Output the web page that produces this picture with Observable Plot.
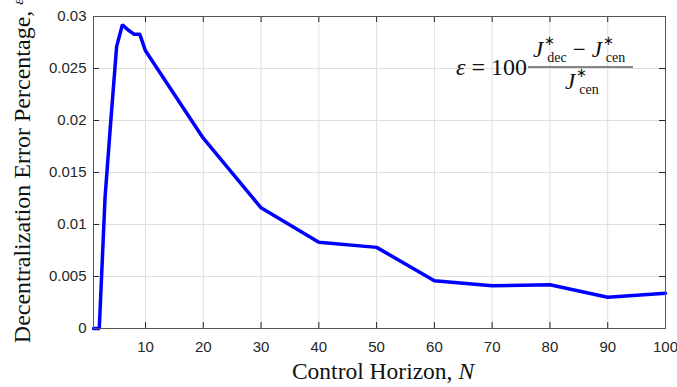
<!DOCTYPE html>
<html><head><meta charset="utf-8">
<script src="https://cdn.jsdelivr.net/npm/d3@7"></script>
<script src="https://cdn.jsdelivr.net/npm/@observablehq/plot@0.6"></script>
<style>
body{margin:0;background:#fff;}
#wrap{position:relative;width:677px;height:387px;overflow:hidden;}
#wrap > svg{position:absolute;left:0;top:0;}
#over{pointer-events:none;font-family:"Liberation Serif","Times New Roman",serif;fill:#111;}
</style></head><body><div id="wrap"></div>
<script>
const horizon = [1, 2, 3, 4, 5, 6, 7, 8, 9, 10, 20, 30, 40, 50, 60, 70, 80, 90, 100];
const errorPct = [0, 0, 0.0126, 0.0200, 0.0271, 0.0292, 0.0287, 0.0283, 0.0283, 0.0267, 0.0183, 0.0116, 0.0083, 0.0078, 0.0046, 0.0041, 0.0042, 0.0030, 0.0034];
const xTicks = [10, 20, 30, 40, 50, 60, 70, 80, 90, 100];
const yTicks = [0, 0.005, 0.01, 0.015, 0.02, 0.025, 0.03];
const yTickLabels = ["0", "0.005", "0.01", "0.015", "0.02", "0.025", "0.03"];
const xLabel = "Control Horizon, ";
const xLabelVar = "N";
const yLabel = "Decentralization Error Percentage, ";
const yLabelVar = "ε";

const W = 677, H = 387, mL = 93, mR = 12, mT = 16, mB = 59;
const pw = W - mL - mR, ph = H - mT - mB, tk = 6;
const data = horizon.map((n, i) => ({n, e: errorPct[i]}));

const chart = Plot.plot({
  width: W, height: H, marginLeft: mL, marginRight: mR, marginTop: mT, marginBottom: mB,
  style: {fontFamily: "'Liberation Sans', Arial, sans-serif", fontSize: "15px", color: "#262626", background: "#fff"},
  x: {domain: [1, 100]},
  y: {domain: [0, 0.03]},
  marks: [
    Plot.gridX(xTicks, {stroke: "#dedede", strokeOpacity: 1}),
    Plot.gridY(yTicks, {stroke: "#dedede", strokeOpacity: 1}),
    Plot.tickX(xTicks, {x: d => d, insetTop: ph - tk, stroke: "#262626"}),
    Plot.tickX(xTicks, {x: d => d, insetBottom: ph - tk, stroke: "#262626"}),
    Plot.tickY(yTicks, {y: d => d, insetRight: pw - tk, stroke: "#262626"}),
    Plot.tickY(yTicks, {y: d => d, insetLeft: pw - tk, stroke: "#262626"}),
    Plot.axisX(xTicks, {tickSize: 0, tickPadding: 13, label: null, fontSize: 15, fill: "#262626"}),
    Plot.axisY(yTicks, {tickSize: 0, tickPadding: 7, label: null, fontSize: 15, fill: "#262626",
      tickFormat: d => yTickLabels[yTicks.indexOf(d)]}),
    Plot.line(data, {x: "n", y: "e", stroke: "#0000ff", strokeWidth: 3.5, strokeLinejoin: "miter"}),
    Plot.frame({stroke: "#555", strokeWidth: 1})
  ]
});
const wrap = document.getElementById("wrap");
wrap.appendChild(chart);

// annotation overlay: axis titles and formula
const ns = "http://www.w3.org/2000/svg";
const over = document.createElementNS(ns, "svg");
over.setAttribute("id", "over");
over.setAttribute("width", W); over.setAttribute("height", H);
over.innerHTML = `
  <text x="383" y="379" text-anchor="middle" font-size="23.5">${xLabel}<tspan font-style="italic">${xLabelVar}</tspan></text>
  <text transform="translate(30,171) rotate(-90)" text-anchor="middle" font-size="24">${yLabel}<tspan font-style="italic" font-size="15" dy="-7">${yLabelVar}</tspan></text>
  <text x="456" y="75" font-size="24"><tspan font-style="italic">ε</tspan> = 100</text>
  <line x1="528" x2="633" y1="67" y2="67" stroke="#111" stroke-width="1.2"/>
  <text x="533" y="57" font-size="23"><tspan font-style="italic">J</tspan><tspan font-size="13" dy="-12" dx="1">∗</tspan><tspan font-size="14" dx="-8" dy="17">dec</tspan><tspan dy="-5" dx="6">−</tspan><tspan font-style="italic" dx="6">J</tspan><tspan font-size="13" dy="-12" dx="1">∗</tspan><tspan font-size="14" dx="-8" dy="17">cen</tspan></text>
  <text x="565" y="89" font-size="23"><tspan font-style="italic">J</tspan><tspan font-size="13" dy="-12" dx="1">∗</tspan><tspan font-size="14" dx="-8" dy="17">cen</tspan></text>
`;
wrap.appendChild(over);
</script></body></html>
